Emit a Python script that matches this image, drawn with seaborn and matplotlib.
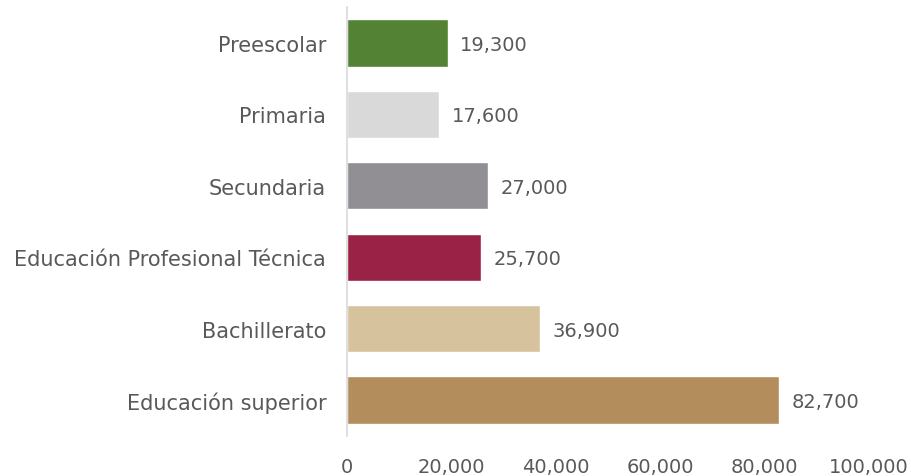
import matplotlib
matplotlib.use("Agg")
import matplotlib.pyplot as plt
import seaborn as sns
import pandas as pd

# data
niveles = ["Preescolar", "Primaria", "Secundaria", "Educación Profesional Técnica",
           "Bachillerato", "Educación superior"]
valores = [19300, 17600, 27000, 25700, 36900, 82700]
colores = ["#548235", "#D9D9D9", "#918F94", "#9B2247", "#D6C29D", "#B38D5C"]
ticks = [0, 20000, 40000, 60000, 80000, 100000]

df = pd.DataFrame({"nivel": niveles, "valor": valores})

sns.set_style("white")
plt.rcParams["font.family"] = ["DejaVu Sans"]
texto = "#595959"

fig = plt.figure(figsize=(9.12, 4.77), dpi=100)
ax = fig.add_axes([347 / 912, 1 - 436.7 / 477, (869 - 347) / 912, (436.7 - 8.3) / 477])

sns.barplot(data=df, x="valor", y="nivel", hue="nivel", palette=colores,
            legend=False, width=0.66, ax=ax, saturation=1)

for i, v in enumerate(valores):
    ax.text(v + 2400, i + 0.02, f"{v:,}", va="center", ha="left", fontsize=14, color=texto)

ax.set_xlim(0, 100000)
ax.set_ylim(5.5, -0.5)
ax.set_xticks(ticks)
ax.set_xticklabels([f"{t:,}" for t in ticks])
ax.tick_params(axis="x", labelsize=14, colors=texto, length=0, pad=15)
ax.tick_params(axis="y", labelsize=15, colors=texto, length=0, pad=15)
ax.set_xlabel("")
ax.set_ylabel("")
for s in ["top", "right", "bottom"]:
    ax.spines[s].set_visible(False)
ax.spines["left"].set_color("#D9D9D9")
ax.spines["left"].set_linewidth(1.2)

fig.savefig("out.png", dpi=100)
